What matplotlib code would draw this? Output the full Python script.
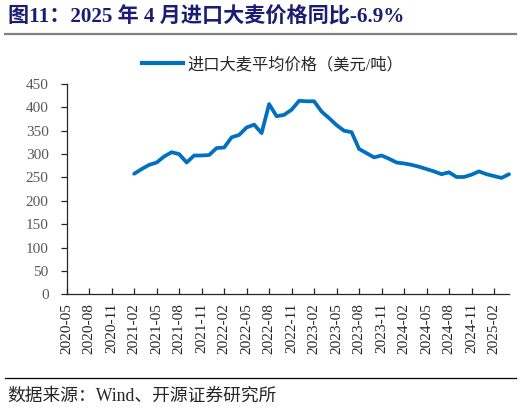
import matplotlib

matplotlib.use("Agg")
import matplotlib.pyplot as plt  # noqa: E402
import pandas as pd  # noqa: E402
from matplotlib.lines import Line2D  # noqa: E402

plt.rcParams["font.family"] = ["Liberation Serif", "Noto Sans CJK SC"]

# monthly import barley average price (USD/t), 2021-02 .. 2025-04
start_month = "2021-02"
prices = [
    258, 268, 277, 282, 295, 304, 300, 282, 297, 297, 298,          # 2021
    313, 314, 336, 341, 357, 363, 345, 407, 381, 384, 395, 414,     # 2022
    413, 413, 391, 377, 362, 350, 347, 311, 302, 293, 297, 290,     # 2023
    282, 280, 277, 273, 268, 263, 257, 261, 251, 251, 256, 263,     # 2024
    257, 253, 249, 257,                                             # 2025
]
axis_start, axis_end = "2020-05", "2025-04"
series_name = "进口大麦平均价格（美元/吨）"
title = "图11：2025 年 4 月进口大麦价格同比-6.9%"
source = "数据来源：Wind、开源证券研究所"

axis_months = pd.period_range(axis_start, axis_end, freq="M")
data_months = pd.period_range(start_month, periods=len(prices), freq="M")
pos = {p: i for i, p in enumerate(axis_months)}
xs = [pos[p] for p in data_months]

W, H = 522, 408
fig = plt.figure(figsize=(W / 100, H / 100), dpi=100)

L, R, T, B = 66.7, 509, 84, 294.3
ax = fig.add_axes([L / W, 1 - B / H, (R - L) / W, (B - T) / H])

BLUE = "#0070C0"
ax.plot(xs, prices, color=BLUE, linewidth=2.7, solid_capstyle="round",
        solid_joinstyle="round", clip_on=False)

ax.set_xlim(0, len(axis_months) - 1)
ax.set_ylim(0, 450)
ax.set_yticks(range(0, 451, 50))
tick_idx = list(range(0, len(axis_months), 3))
ax.set_xticks(tick_idx)
ax.set_xticklabels([axis_months[i].strftime("%Y-%m") for i in tick_idx],
                   rotation=90, fontsize=11, color="#262626")

for s in ("top", "right"):
    ax.spines[s].set_visible(False)
for s in ("left", "bottom"):
    ax.spines[s].set_color("#262626")
    ax.spines[s].set_linewidth(0.9)
ax.tick_params(axis="y", direction="out", length=4, width=0.9, pad=9,
               labelsize=11, labelcolor="#595959", color="#262626")
ax.tick_params(axis="x", direction="in", length=4, width=0.9, pad=6,
               color="#262626")

# legend
handle = Line2D([], [], color=BLUE, linewidth=3)
fig.legend([handle], [series_name], loc="center",
           bbox_to_anchor=(273 / W, 1 - 65 / H), frameon=False,
           handlelength=2.5, handletextpad=0.3, fontsize=11.7,
           labelcolor="#262626")

# title + rules
fig.text(8 / W, 1 - 17 / H, title, fontsize=15.2, fontweight="bold",
         color="#1C1C73", ha="left", va="center")
fig.add_artist(Line2D([5 / W, 516 / W], [1 - 33.5 / H] * 2,
                      color="#808080", linewidth=1.6))
fig.add_artist(Line2D([5 / W, 516 / W], [1 - 378 / H] * 2,
                      color="#000000", linewidth=0.9))
fig.text(7 / W, 1 - 396 / H, source, fontsize=12.8, color="#262626",
         ha="left", va="center")

fig.savefig("out.png", dpi=100)
plt.close(fig)
